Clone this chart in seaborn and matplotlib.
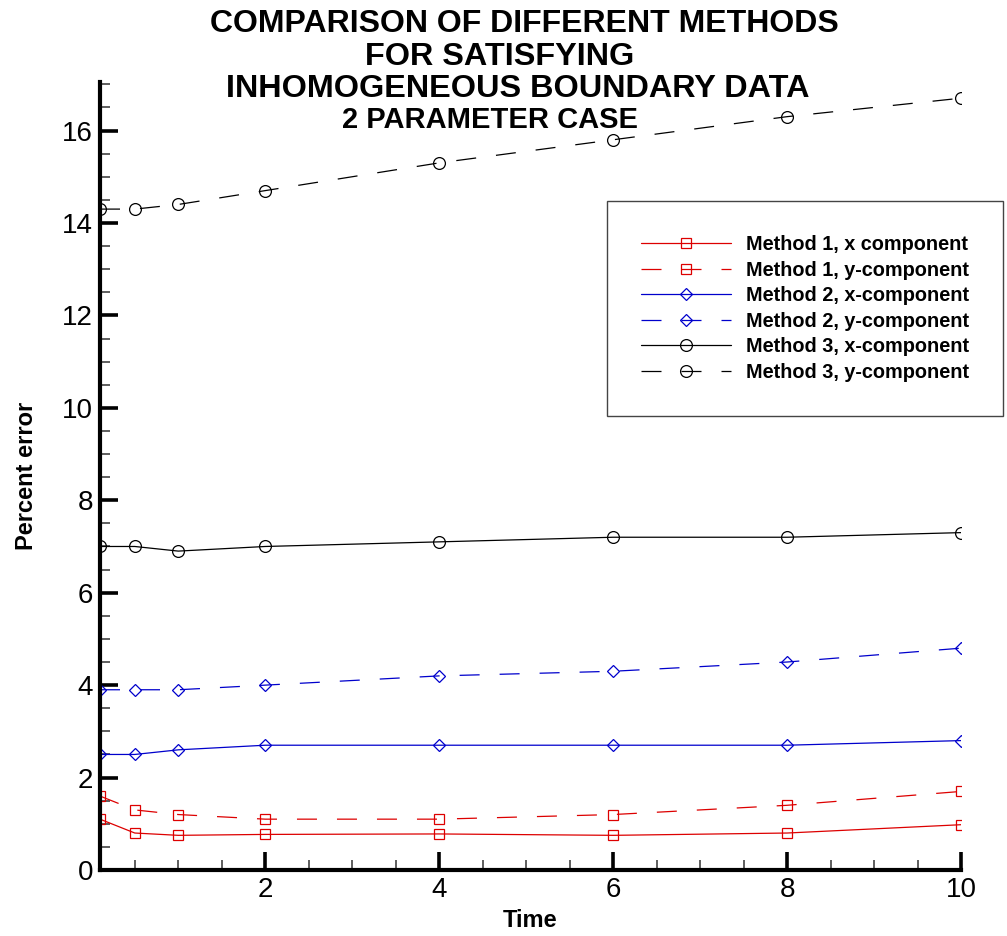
import matplotlib
matplotlib.use('Agg')
import matplotlib.pyplot as plt
import seaborn as sns
from matplotlib.ticker import MultipleLocator

sns.set_style("white")
plt.rcParams['font.family'] = ['Liberation Sans', 'DejaVu Sans']
plt.rcParams['text.color'] = 'black'
plt.rcParams['axes.labelcolor'] = 'black'
plt.rcParams['xtick.color'] = 'black'
plt.rcParams['ytick.color'] = 'black'

# data
time = [0.1, 0.5, 1, 2, 4, 6, 8, 10]
m1_x = [1.1, 0.8, 0.75, 0.77, 0.78, 0.75, 0.8, 0.98]
m1_y = [1.6, 1.3, 1.2, 1.1, 1.1, 1.2, 1.4, 1.7]
m2_x = [2.5, 2.5, 2.6, 2.7, 2.7, 2.7, 2.7, 2.8]
m2_y = [3.9, 3.9, 3.9, 4.0, 4.2, 4.3, 4.5, 4.8]
m3_x = [7.0, 7.0, 6.9, 7.0, 7.1, 7.2, 7.2, 7.3]
m3_y = [14.3, 14.3, 14.4, 14.7, 15.3, 15.8, 16.3, 16.7]

labels = ['Method 1, x component', 'Method 1, y-component',
          'Method 2, x-component', 'Method 2, y-component',
          'Method 3, x-component', 'Method 3, y-component']
series = [m1_x, m1_y, m2_x, m2_y, m3_x, m3_y]

red, blue, black = '#dd0000', '#0000cc', '#000000'
dash = (0, (16, 16))
styles = [
    (red, 's', 7, '-'),
    (red, 's', 7, dash),
    (blue, 'D', 6, '-'),
    (blue, 'D', 6, dash),
    (black, 'o', 8.5, '-'),
    (black, 'o', 8.5, dash),
]

fig = plt.figure(figsize=(10.07, 9.36), dpi=100)
ax = fig.add_axes([100/1007, 1 - 870/936, 861/1007, (870 - 82)/936])

for vals, lab, (c, mk, ms, ls) in zip(series, labels, styles):
    sns.lineplot(x=time, y=vals, ax=ax, color=c, marker=mk, markersize=ms,
                 markerfacecolor='none', markeredgecolor=c, markeredgewidth=0.9,
                 linewidth=0.9, linestyle=ls, label=lab)

ax.set_xlim(0.1, 10)
ax.set_ylim(0, 17.05)
ax.xaxis.set_major_locator(MultipleLocator(2))
ax.xaxis.set_minor_locator(MultipleLocator(0.5))
ax.yaxis.set_major_locator(MultipleLocator(2))
ax.yaxis.set_minor_locator(MultipleLocator(0.5))
ax.tick_params(which='major', direction='in', length=13, width=2.6,
               labelsize=20, pad=5, color='black')
ax.tick_params(which='minor', direction='in', length=7.5, width=1.1, color='#333333')
ax.tick_params(axis='y', which='both', left=True)
ax.tick_params(axis='x', which='both', bottom=True)

for side in ['top', 'right']:
    ax.spines[side].set_visible(False)
for side in ['left', 'bottom']:
    ax.spines[side].set_linewidth(3)
    ax.spines[side].set_color('black')

ax.set_xlabel('Time', fontsize=17, fontweight='bold')
ax.xaxis.set_label_coords(0.5, -0.0723)
ax.xaxis.label.set_va('baseline')
ax.set_ylabel('Percent error', fontsize=17, fontweight='bold')
ax.yaxis.set_label_coords(-0.0778, 0.5)
ax.yaxis.label.set_va('baseline')

leg = ax.legend(loc='upper left', bbox_to_anchor=(0.589, 0.849), fancybox=False,
                frameon=True, edgecolor='#444444', framealpha=1,
                prop={'family': 'Liberation Sans', 'weight': 'bold', 'size': 14.3},
                handlelength=4.5, handletextpad=0.78, borderpad=1.72,
                labelspacing=0.33, borderaxespad=0)
leg.get_frame().set_linewidth(1.0)

title_lines = [
    ('COMPARISON OF DIFFERENT METHODS', 524.5, 32, 23),
    ('FOR SATISFYING', 500, 65, 23.3),
    ('INHOMOGENEOUS BOUNDARY DATA', 517.5, 97, 23.3),
    ('2 PARAMETER CASE', 490.5, 128, 21),
]
for txt, cx, base, fs in title_lines:
    fig.text(cx/1007, 1 - base/936, txt, ha='center', va='baseline',
             fontsize=fs, fontweight='bold')

fig.savefig('out.png', dpi=100)
